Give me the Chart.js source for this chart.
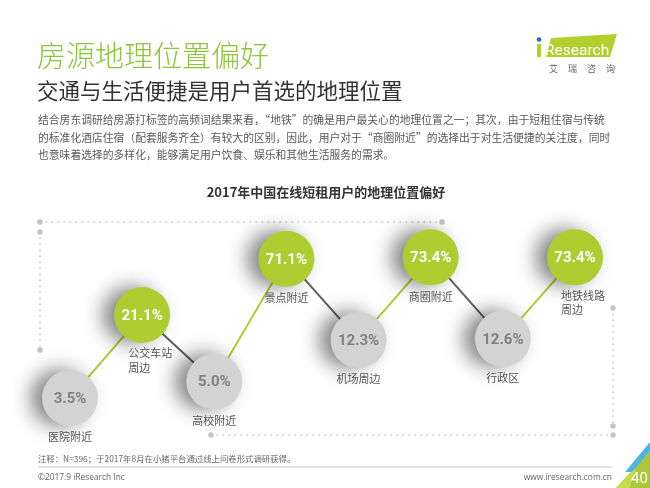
<!DOCTYPE html>
<html>
<head>
<meta charset="utf-8">
<script src="https://cdn.jsdelivr.net/npm/chart.js@4.4.1/dist/chart.umd.min.js"></script>
<style>
    body { margin: 0; background: #fff; }
    .page { position: relative; width: 650px; height: 488px; overflow: hidden; font-family: "Noto Sans CJK SC", "Noto Sans", sans-serif; }
    .page canvas { position: absolute; left: 0; top: 0; }
    .txt { position: absolute; white-space: nowrap; }
</style>
</head>
<body>
<div class="page">
    <canvas id="myChart" width="650" height="488"></canvas>

    <div class="txt" style="left:37px;top:33px;font-size:29px;color:#8cc43c;font-weight:300;">房源地理位置偏好</div>
    <div class="txt" style="left:37px;top:74px;font-size:21.5px;color:#333;">交通与生活便捷是用户首选的地理位置</div>
    <div class="txt" style="left:38px;top:111px;font-size:10.8px;line-height:17.5px;color:#595959;">
        结合房东调研给房源打标签的高频词结果来看，“地铁”的确是用户最关心的地理位置之一；其次，由于短租住宿与传统<br>
        的标准化酒店住宿（配套服务齐全）有较大的区别，因此，用户对于“商圈附近”的选择出于对生活便捷的关注度，同时<br>
        也意味着选择的多样化，能够满足用户饮食、娱乐和其他生活服务的需求。
    </div>
    <div class="txt" style="left:0;width:652px;text-align:center;top:182px;font-size:13px;font-weight:bold;color:#333;">2017年中国在线短租用户的地理位置偏好</div>

    <!-- logo and page corner -->
    <svg style="position:absolute;left:0;top:0" width="650" height="488">
        <polygon points="551,38 617,34 610,57 546,57" fill="#b3cf2e"/>
        <rect x="537" y="44" width="4" height="13" fill="#b3cf2e"/>
        <circle cx="539" cy="39.5" r="2.3" fill="#1f6fb5"/>
        <text x="545" y="55" font-family="Roboto, sans-serif" font-size="15.5" fill="#fff">Research</text>
        <text x="549" y="72" font-family="Noto Sans CJK SC" font-size="9" fill="#666" letter-spacing="10">艾瑞咨询</text>
        <line x1="38" y1="467" x2="612" y2="467" stroke="#c8c8c8" stroke-width="1"/>
        <polygon points="616,488 650,451 650,488" fill="#a9c93a"/>
        <polygon points="616,488 636,466 630,488" fill="#c6dc4a"/>
        <polygon points="625,472 650,442 650,451 632,472" fill="#4fb3e6"/>
        <text x="631" y="483" font-family="Roboto, sans-serif" font-size="15" fill="#fff">40</text>
    </svg>

    <div class="txt" style="left:38px;top:452px;font-size:8.4px;color:#666;">注释：N=396；于2017年8月在小猪平台通过线上问卷形式调研获得。</div>
    <div class="txt" style="left:38px;top:471px;font-size:8.4px;color:#666;font-family:'Open Sans',sans-serif;">©2017.9 iResearch Inc</div>
    <div class="txt" style="right:38px;top:471px;font-size:8.4px;color:#666;font-family:'Open Sans',sans-serif;">www.iresearch.com.cn</div>
</div>

<script>
// data
const locations = ['医院附近', ['公交车站', '周边'], '高校附近', '景点附近', '机场周边', '商圈附近', '行政区', ['地铁线路', '周边']];
const shares = [3.5, 21.1, 5.0, 71.1, 12.3, 73.4, 12.6, 73.4];

const GREEN = '#afcc30';
const GREY = '#d3d3d3';

// dotted bracket frame behind the chart
const framePlugin = {
    id: 'frame',
    beforeDraw(chart) {
        const ctx = chart.ctx;
        ctx.save();
        ctx.strokeStyle = '#c4c4c4';
        ctx.lineWidth = 1.5;
        ctx.lineCap = 'round';
        ctx.setLineDash([0.5, 5.5]);
        const lines = [[40, 222, 442, 222], [40, 232, 40, 350], [211, 435, 613, 435], [613, 308, 613, 426]];
        lines.forEach(l => {
            ctx.beginPath();
            ctx.moveTo(l[0], l[1]);
            ctx.lineTo(l[2], l[3]);
            ctx.stroke();
        });
        ctx.setLineDash([]);
        ctx.fillStyle = '#c4c4c4';
        [[40, 222], [442, 222], [40, 232], [40, 350], [211, 435], [613, 435], [613, 426], [613, 308]].forEach(p => {
            ctx.beginPath();
            ctx.arc(p[0], p[1], 2.8, 0, Math.PI * 2);
            ctx.fill();
        });
        ctx.restore();
    }
};

// soft shadow under the bubbles
const shadowPlugin = {
    id: 'bubbleShadow',
    beforeDatasetDraw(chart, args) {
        if (args.index !== 0) return;
        const ctx = chart.ctx;
        ctx.save();
        ctx.shadowColor = 'rgba(0,0,0,0.5)';
        ctx.shadowBlur = 20;
        ctx.shadowOffsetX = -11;
        ctx.shadowOffsetY = 0;
    },
    afterDatasetDraw(chart, args) {
        if (args.index !== 0) return;
        chart.ctx.restore();
    }
};

// values inside bubbles, names under them
const labelPlugin = {
    id: 'bubbleLabels',
    afterDatasetsDraw(chart) {
        const ctx = chart.ctx;
        const meta = chart.getDatasetMeta(0);
        ctx.save();
        meta.data.forEach((pt, i) => {
            ctx.textBaseline = 'middle';
            ctx.textAlign = 'center';
            ctx.font = 'bold 15px Roboto, sans-serif';
            ctx.fillStyle = i % 2 ? '#fff' : '#808080';
            ctx.fillText(shares[i].toFixed(1) + '%', pt.x, pt.y + 1);

            ctx.font = '11px "Noto Sans CJK SC", sans-serif';
            ctx.fillStyle = '#555';
            const name = locations[i];
            if (Array.isArray(name)) {
                ctx.textAlign = 'left';
                name.forEach((line, k) => ctx.fillText(line, pt.x - 14, pt.y + 38 + k * 14.5));
            } else {
                ctx.fillText(name, pt.x, pt.y + 39);
            }
        });
        ctx.restore();
    }
};

new Chart(document.getElementById('myChart'), {
    type: 'line',
    data: {
        labels: locations,
        datasets: [
            {
                // bubbles
                data: shares,
                showLine: false,
                pointRadius: 28,
                pointHoverRadius: 28,
                pointBorderWidth: 0,
                pointBackgroundColor: shares.map((v, i) => i % 2 ? GREEN : GREY),
                clip: false,
            },
            {
                // zigzag connecting line
                data: shares,
                pointRadius: 0,
                borderWidth: 2,
                borderColor: '#666',
                segment: {
                    borderColor: c => c.p0DataIndex % 2 ? '#5f5f5f' : GREEN,
                },
                clip: false,
            },
        ],
    },
    options: {
        responsive: false,
        animation: false,
        layout: { padding: { left: 70, right: 75, top: 211, bottom: 32 } },
        plugins: {
            legend: { display: false },
            tooltip: { enabled: false },
        },
        scales: {
            x: { display: false, offset: false },
            y: { type: 'logarithmic', display: false, min: 1, max: 200 },
        },
    },
    plugins: [framePlugin, shadowPlugin, labelPlugin],
});
</script>
</body>
</html>
